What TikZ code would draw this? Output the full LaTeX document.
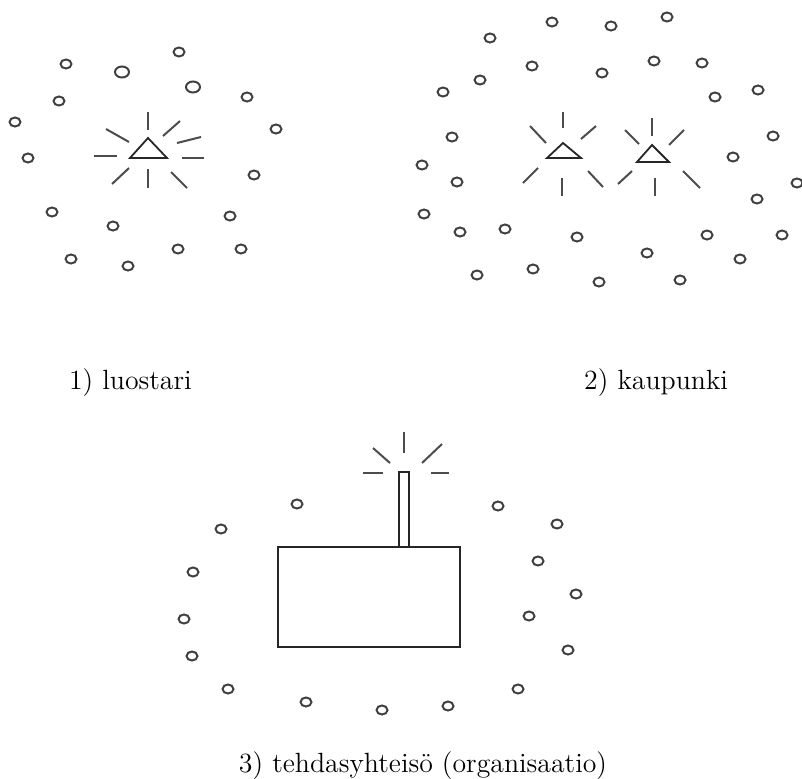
\documentclass[tikz,border=0pt]{standalone}
\usepackage{tikz}

\tikzset{
  hut/.style={draw=black!75, line width=1pt},
  bighut/.style={draw=black!75, line width=1pt},
  ray/.style={draw=black!70, line width=1pt},
  house/.style={draw=black!85, line width=0.9pt},
  caption/.style={font=\fontsize{13.9}{16}\selectfont}
}

\begin{document}
\begin{tikzpicture}[x=0.5pt, y=-0.5pt, every node/.style={align=center}]
\useasboundingbox (0,0) rectangle (802,778);

% 1) luostari
\foreach \x/\y in {179/52, 66/64, 247/97, 59/101, 15/122, 276/129, 28/158,
                   254/175, 52/212, 230/216, 113/226, 178/249, 241/249,
                   71/259, 128/266}
  \draw[hut] (\x,\y) ellipse (5.5 and 4.5);
\draw[bighut] (122,72) ellipse (7 and 5.5);
\draw[bighut] (193,87) ellipse (7 and 5.5);
\draw[house] (130,158) -- (167,158) -- (148,138) -- cycle;
\foreach \a/\b/\c/\d in {148/112/148/130, 106/129/129/142, 163/136/180/121,
                         177/143/201/137, 94/156/117/156, 182/158/204/158,
                         112/184/129/168, 148/169/148/188, 171/172/187/188}
  \draw[ray] (\a,\b) -- (\c,\d);
\node[caption, anchor=base west] (luostari) at (62,389) {1) luostari};

% 2) kaupunki
\foreach \x/\y in {552/22, 611/26, 667/17, 490/38, 532/66, 602/73, 654/61,
                   702/63, 480/80, 443/92, 715/97, 758/90, 452/137, 773/136,
                   733/157, 422/165, 457/182, 797/183, 757/199, 424/214,
                   460/232, 505/229, 577/237, 707/235, 782/235, 647/253,
                   740/259, 477/275, 533/269, 599/282, 680/280}
  \draw[hut] (\x,\y) ellipse (5.5 and 4.5);
\draw[house] (547,158) -- (581,158) -- (563,143) -- cycle;
\draw[house] (637,162) -- (669,162) -- (652,145) -- cycle;
\foreach \a/\b/\c/\d in {563/112/563/128, 530/126/546/143, 581/139/596/126,
                         523/183/538/168, 562/178/562/196, 588/171/603/187,
                         652/118/652/136, 625/130/639/144, 669/145/684/130,
                         618/184/632/171, 655/178/655/196, 683/171/700/188}
  \draw[ray] (\a,\b) -- (\c,\d);
\node[caption, anchor=base east] (kaupunki) at (735,389) {2) kaupunki};

% 3) tehdasyhteisö
\foreach \x/\y in {297/504, 498/506, 221/529, 557/524, 538/561, 193/572,
                   576/594, 184/619, 529/616, 192/656, 568/650, 228/689,
                   518/689, 306/702, 448/706, 382/710}
  \draw[hut] (\x,\y) ellipse (5.5 and 4.5);
\draw[house] (278,547) rectangle (460,647);
\draw[house] (399,472) rectangle (409,547);
\foreach \a/\b/\c/\d in {404/432/404/453, 373/448/390/463, 422/463/442/444,
                         363/473/383/473, 431/473/449/473}
  \draw[ray] (\a,\b) -- (\c,\d);
\node[caption, anchor=base] (tehdas) at (423,772) {3) tehdasyhteisö (organisaatio)};
\end{tikzpicture}
\end{document}
